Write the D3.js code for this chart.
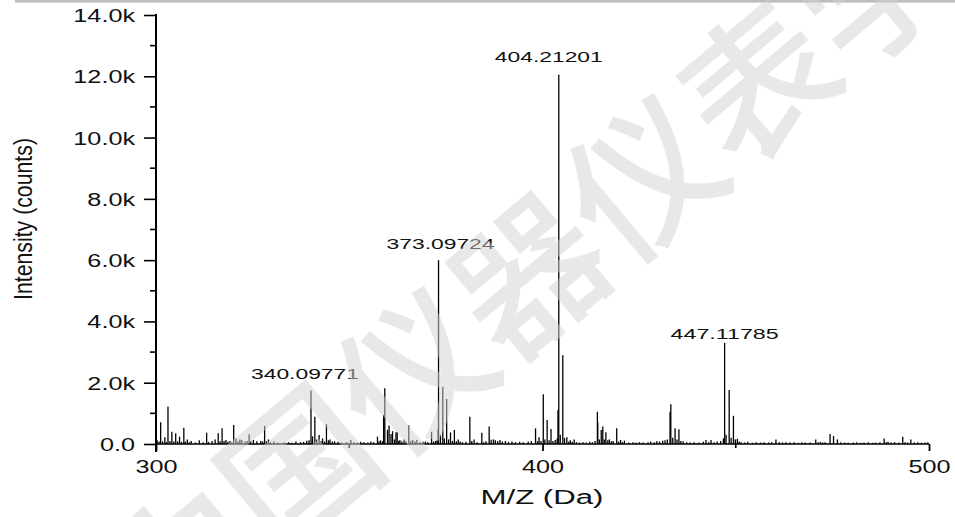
<!DOCTYPE html>
<html><head><meta charset="utf-8">
<script src="https://cdn.jsdelivr.net/npm/d3@7"></script>
<style>
body{margin:0;background:#fff;}
svg text{font-family:"Liberation Sans",Arial,sans-serif;fill:#111;}
</style>
</head><body>
<svg id="chart" width="955" height="517"></svg>
<script>
// ---------- data (m/z, intensity in counts) ----------
const mz = [
300.3,300.8,301.2,301.7,302.3,302.7,303.1,303.6,304.1,304.6,305.1,305.6,306.1,306.6,307.2,307.6,308.1,308.6,309.1,310.2,
311.2,312.2,313.1,313.6,314.5,315.3,316.1,316.6,317.1,317.6,318.1,318.6,319.1,319.6,320.1,320.7,321.2,321.7,322.2,323.1,
323.6,324.1,324.5,325.2,326.1,327.1,327.6,328.1,328.6,329.1,329.6,330.5,331.5,333.2,334.3,335.1,336.2,337.4,338.2,339.0,
339.6,340.1,340.5,341.1,341.6,342.2,342.7,343.1,343.6,344.1,344.6,345.0,345.6,346.2,347.1,348.0,349.3,350.4,351.2,352.1,
353.0,353.8,354.8,355.6,356.3,357.3,357.7,358.1,358.6,358.9,359.2,359.9,360.3,360.8,361.2,361.7,362.1,362.4,362.8,363.1,
363.6,364.2,364.7,365.4,365.9,366.4,367.0,367.5,368.3,369.1,369.7,370.3,371.3,371.8,372.3,372.7,373.0,373.1,373.6,374.2,
374.6,375.2,375.7,376.2,376.7,377.2,377.7,378.2,378.7,379.3,380.2,381.2,381.7,382.3,383.1,384.3,384.8,385.4,386.2,386.7,
387.3,387.8,388.4,389.0,389.6,390.4,391.2,392.1,393.0,394.1,395.0,396.3,397.1,398.2,398.7,399.1,399.6,400.2,400.6,401.2,
401.7,402.2,402.7,403.3,403.8,404.0,404.21,404.6,405.25,405.7,406.3,406.8,407.2,407.7,408.2,408.8,409.6,410.5,411.3,412.2,
412.9,413.6,414.2,414.3,414.7,415.2,415.6,416.0,416.4,416.9,417.3,417.8,418.3,419.2,419.7,420.2,420.7,421.2,422.3,423.4,
424.2,425.1,426.0,427.3,428.0,428.9,429.6,430.3,431.1,431.7,432.3,433.0,433.2,433.7,434.3,434.8,435.3,435.8,436.4,437.3,
438.2,439.2,440.5,441.6,442.3,443.0,443.6,444.4,445.2,446.1,446.8,447.12,447.5,448.3,448.8,449.4,449.9,450.4,450.9,451.4,
452.3,453.1,454.4,455.3,456.4,457.3,458.5,459.3,460.4,461.3,462.1,463.0,464.0,465.1,466.2,467.1,468.0,469.2,470.7,471.3,
471.9,472.5,473.1,474.4,475.3,476.3,477.2,478.2,479.1,480.4,481.3,482.4,483.2,484.3,485.4,486.2,487.3,488.4,488.9,489.4,
490.2,491.1,492.2,493.2,493.8,494.5,495.3,496.2,497.1,498.0,499.0,499.7
];
const intensity = [
120,80,710,90,220,60,1220,100,400,80,350,90,240,70,530,80,150,60,100,50,
120,60,370,70,100,150,350,90,510,100,130,70,100,60,620,180,80,150,130,80,
100,320,90,130,90,100,80,590,90,150,60,80,50,60,60,40,80,60,70,110,
120,1750,250,890,150,290,100,180,80,650,120,150,80,90,70,50,60,130,60,50,
70,60,50,80,60,240,90,120,90,950,1820,460,600,330,420,150,380,380,100,130,
80,150,90,610,100,130,80,130,60,70,80,60,400,80,100,120,480,6000,300,1870,
180,1470,150,380,100,460,90,150,80,60,70,890,100,150,60,370,60,90,570,140,
150,120,100,130,80,100,70,80,60,70,60,80,100,510,90,220,100,1620,150,780,
120,490,100,130,180,1100,12050,300,2900,200,220,80,120,70,150,60,50,60,50,70,
60,100,1050,700,150,460,570,150,380,120,150,90,100,510,80,130,60,110,50,60,
50,60,50,60,80,60,100,80,110,120,150,1050,1300,200,510,150,480,100,90,60,
50,60,50,70,130,60,130,60,80,100,180,3300,300,1760,200,920,150,170,80,60,
50,70,40,60,50,60,50,60,150,60,50,60,50,60,40,60,50,50,150,60,
70,50,60,330,260,150,60,50,40,50,60,40,50,60,40,50,60,180,60,70,
50,60,50,240,60,50,150,50,60,40,50,60
];
const peakLabelText = ["340.09771","373.09724","404.21201","447.11785"];
const peakLabelMz = [340.09771,373.09724,404.21201,447.11785];
const peakLabelIntensity = [1750,6000,12050,3300];
const xTickValues = [300,400,500];
const xTickLabels = ["300","400","500"];
const xMinorTicks = [350,450];
const yTickValues = [0,2000,4000,6000,8000,10000,12000,14000];
const yTickLabels = ["0.0","2.0k","4.0k","6.0k","8.0k","10.0k","12.0k","14.0k"];
const yMinorTicks = [1000,3000,5000,7000,9000,11000,13000];
const xTitle = "M/Z (Da)";
const yTitle = "Intensity (counts)";
const watermark = "中国仪器仪表学会";

// ---------- layout ----------
const svg = d3.select("#chart");
const x = d3.scaleLinear().domain([300,500]).range([156,929]);
const y = d3.scaleLinear().domain([0,14000]).range([444,15]);

// top gray rule
svg.append("rect").attr("x",15).attr("y",0).attr("width",940).attr("height",2.6).attr("fill","#bdbdbd");

// peaks
svg.append("g").selectAll("line").data(mz).join("line")
  .attr("x1",(d)=>x(d)).attr("x2",(d)=>x(d))
  .attr("y1",y(0)).attr("y2",(d,i)=>y(intensity[i]))
  .attr("stroke","#000").attr("stroke-width",1.3);

// y axis
const yAxis = svg.append("g").attr("transform","translate(156,0)")
  .call(d3.axisLeft(y).tickValues(yTickValues).tickFormat((d,i)=>yTickLabels[i]).tickSize(12).tickPadding(0));
yAxis.select(".domain").remove();
yAxis.selectAll(".tick line").attr("stroke","#000").attr("stroke-width",1.6);
yAxis.selectAll(".tick text").attr("font-size",18).attr("fill","#111")
  .attr("x",-21).attr("dy","0.36em")
  .each(function(){ const w=this.getComputedTextLength(); d3.select(this).attr("textLength",w*1.4).attr("lengthAdjust","spacingAndGlyphs"); });
svg.append("g").selectAll("line").data(yMinorTicks).join("line")
  .attr("x1",150).attr("x2",156).attr("y1",d=>y(d)).attr("y2",d=>y(d))
  .attr("stroke","#000").attr("stroke-width",1.6);
svg.append("line").attr("x1",156).attr("x2",156).attr("y1",y(14000)-1).attr("y2",452)
  .attr("stroke","#000").attr("stroke-width",2);

// x axis
const xAxis = svg.append("g").attr("transform",`translate(0,${y(0)})`)
  .call(d3.axisBottom(x).tickValues(xTickValues).tickFormat((d,i)=>xTickLabels[i]).tickSize(7).tickPadding(0));
xAxis.select(".domain").attr("stroke","#000").attr("stroke-width",1.6).attr("d",`M${x(300)},0H${x(500)}`);
xAxis.selectAll(".tick line").attr("stroke","#000").attr("stroke-width",1.8);
xAxis.selectAll(".tick text").attr("font-size",18).attr("fill","#111").attr("y",28.7).attr("dy",0)
  .each(function(){ const w=this.getComputedTextLength(); d3.select(this).attr("textLength",w*1.4).attr("lengthAdjust","spacingAndGlyphs"); });
svg.append("g").selectAll("line").data(xMinorTicks).join("line")
  .attr("x1",d=>x(d)).attr("x2",d=>x(d)).attr("y1",y(0)).attr("y2",y(0)+4)
  .attr("stroke","#000").attr("stroke-width",1.6);

// titles
svg.append("text").attr("x",542).attr("y",504).attr("text-anchor","middle")
  .attr("font-size",20).attr("textLength",123).attr("lengthAdjust","spacingAndGlyphs").text(xTitle);
svg.append("text").attr("transform","translate(31.5,219) rotate(-90)").attr("text-anchor","middle")
  .attr("font-size",25).attr("textLength",162).attr("lengthAdjust","spacingAndGlyphs").text(yTitle);

// peak labels
const labelShift = [[-6,-11],[2,-11],[-10,-13],[0,-4]];
svg.append("g").selectAll("text").data(peakLabelText).join("text")
  .attr("x",(d,i)=>x(peakLabelMz[i])+labelShift[i][0])
  .attr("y",(d,i)=>y(peakLabelIntensity[i])+labelShift[i][1])
  .attr("text-anchor","middle").attr("font-size",15)
  .attr("textLength",108).attr("lengthAdjust","spacingAndGlyphs")
  .text(d=>d);

// watermark overlay
svg.append("text").attr("transform","translate(580,220) rotate(-40)")
  .attr("text-anchor","middle").attr("dominant-baseline","central")
  .style("font-family","'Noto Sans CJK SC',sans-serif").attr("font-size",150).attr("font-weight",500)
  .style("fill","#d2d2d2").attr("opacity",0.5).text(watermark);
</script>
</body></html>
